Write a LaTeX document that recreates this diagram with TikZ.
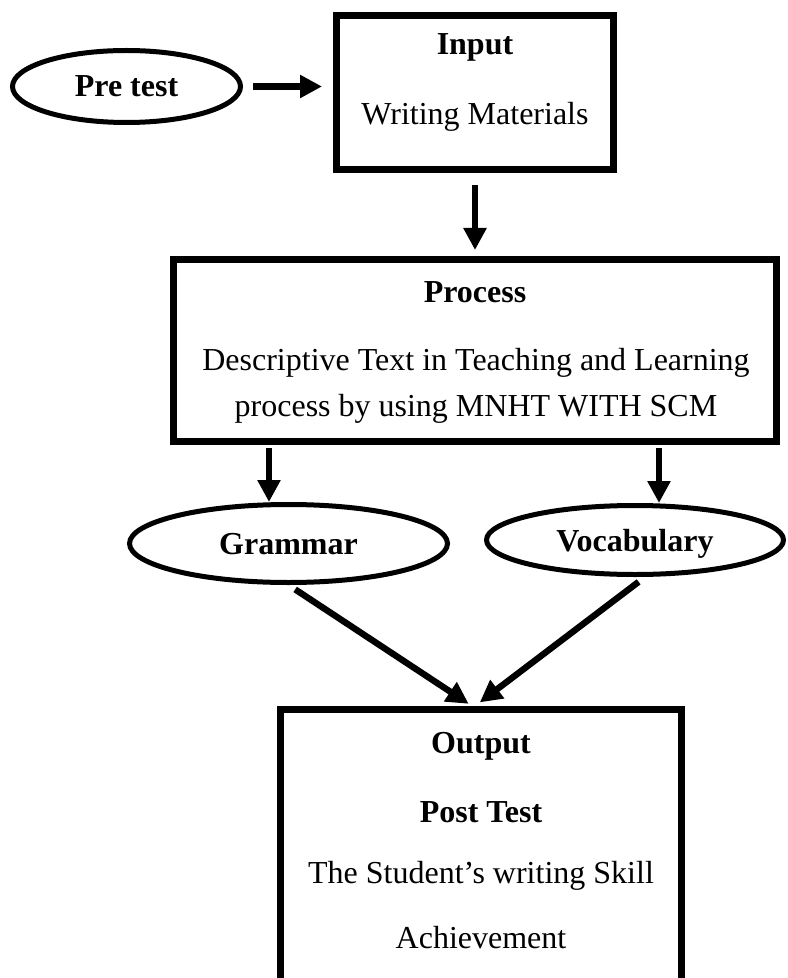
\documentclass[tikz,border=0pt]{standalone}
\usepackage{fontspec}
\setmainfont{Liberation Serif}
\usetikzlibrary{shapes.geometric,arrows.meta}
\begin{document}
\begin{tikzpicture}[x=0.5pt,y=-0.5pt,font=\fontsize{16}{19}\selectfont,
box/.style={draw,line width=3.3pt,inner sep=0pt},
oval/.style={draw,ellipse,line width=2.5pt,inner sep=0pt,text depth=0pt,font=\fontsize{16}{19}\selectfont\bfseries},
txt/.style={anchor=base,inner sep=0pt},
head/.style={txt,font=\fontsize{16}{19}\selectfont\bfseries},
arr/.style={line width=3.2pt,-{Triangle[length=11pt,width=11pt]}}]
\useasboundingbox (0,0) rectangle (787,978);
\clip (0,0) rectangle (787,978);
\node[oval,minimum width=114pt,minimum height=36pt] (pre) at (126.5,86.5) {Pre test};
\node[box,minimum width=138.7pt,minimum height=77.2pt] (in) at (475,92.5) {};
\node[head] (intitle) at (475,55) {Input};
\node[txt] (intext) at (475,125) {Writing Materials};
\node[box,minimum width=301.7pt,minimum height=91.2pt] (proc) at (475,350.5) {};
\node[head] (proctitle) at (475,302) {Process};
\node[txt,align=center,font=\fontsize{16}{23}\selectfont] (proctext) at (476,416) {Descriptive Text in Teaching and Learning\\process by using MNHT WITH SCM};
\node[oval,minimum width=159pt,minimum height=39pt] (gram) at (288.5,543.5) {Grammar};
\node[oval,minimum width=148.5pt,minimum height=34.5pt] (voc) at (635,540) {Vocabulary};
\node[box,minimum width=200.7pt,minimum height=148.7pt] (out) at (481,858) {};
\node[head] (outtitle) at (481,753) {Output};
\node[head] (post) at (481,822) {Post Test};
\node[txt] (outtext) at (481,883) {The Student’s writing Skill};
\node[txt] (achieve) at (481,948) {Achievement};
\draw[arr,shorten <=5pt,shorten >=5.5pt] (pre.east) -- (pre.east -| in.west);
\draw[arr,shorten <=6pt,shorten >=3pt] (in.south) -- (proc.north);
\draw[arr,shorten <=1.5pt] ([xshift=-9.75pt]gram.north |- proc.south) -- ([xshift=-9.75pt]gram.north);
\draw[arr,shorten <=1.5pt] ([xshift=12pt]voc.north |- proc.south) -- ([xshift=12pt]voc.north);
\draw[arr,shorten <=4pt,shorten >=2pt] (gram.south) -- ([xshift=-4.5pt]out.north);
\draw[arr,shorten <=4pt,shorten >=3pt] ([xshift=5pt]voc.south) -- ([xshift=-3pt]out.north);
\end{tikzpicture}
\end{document}
